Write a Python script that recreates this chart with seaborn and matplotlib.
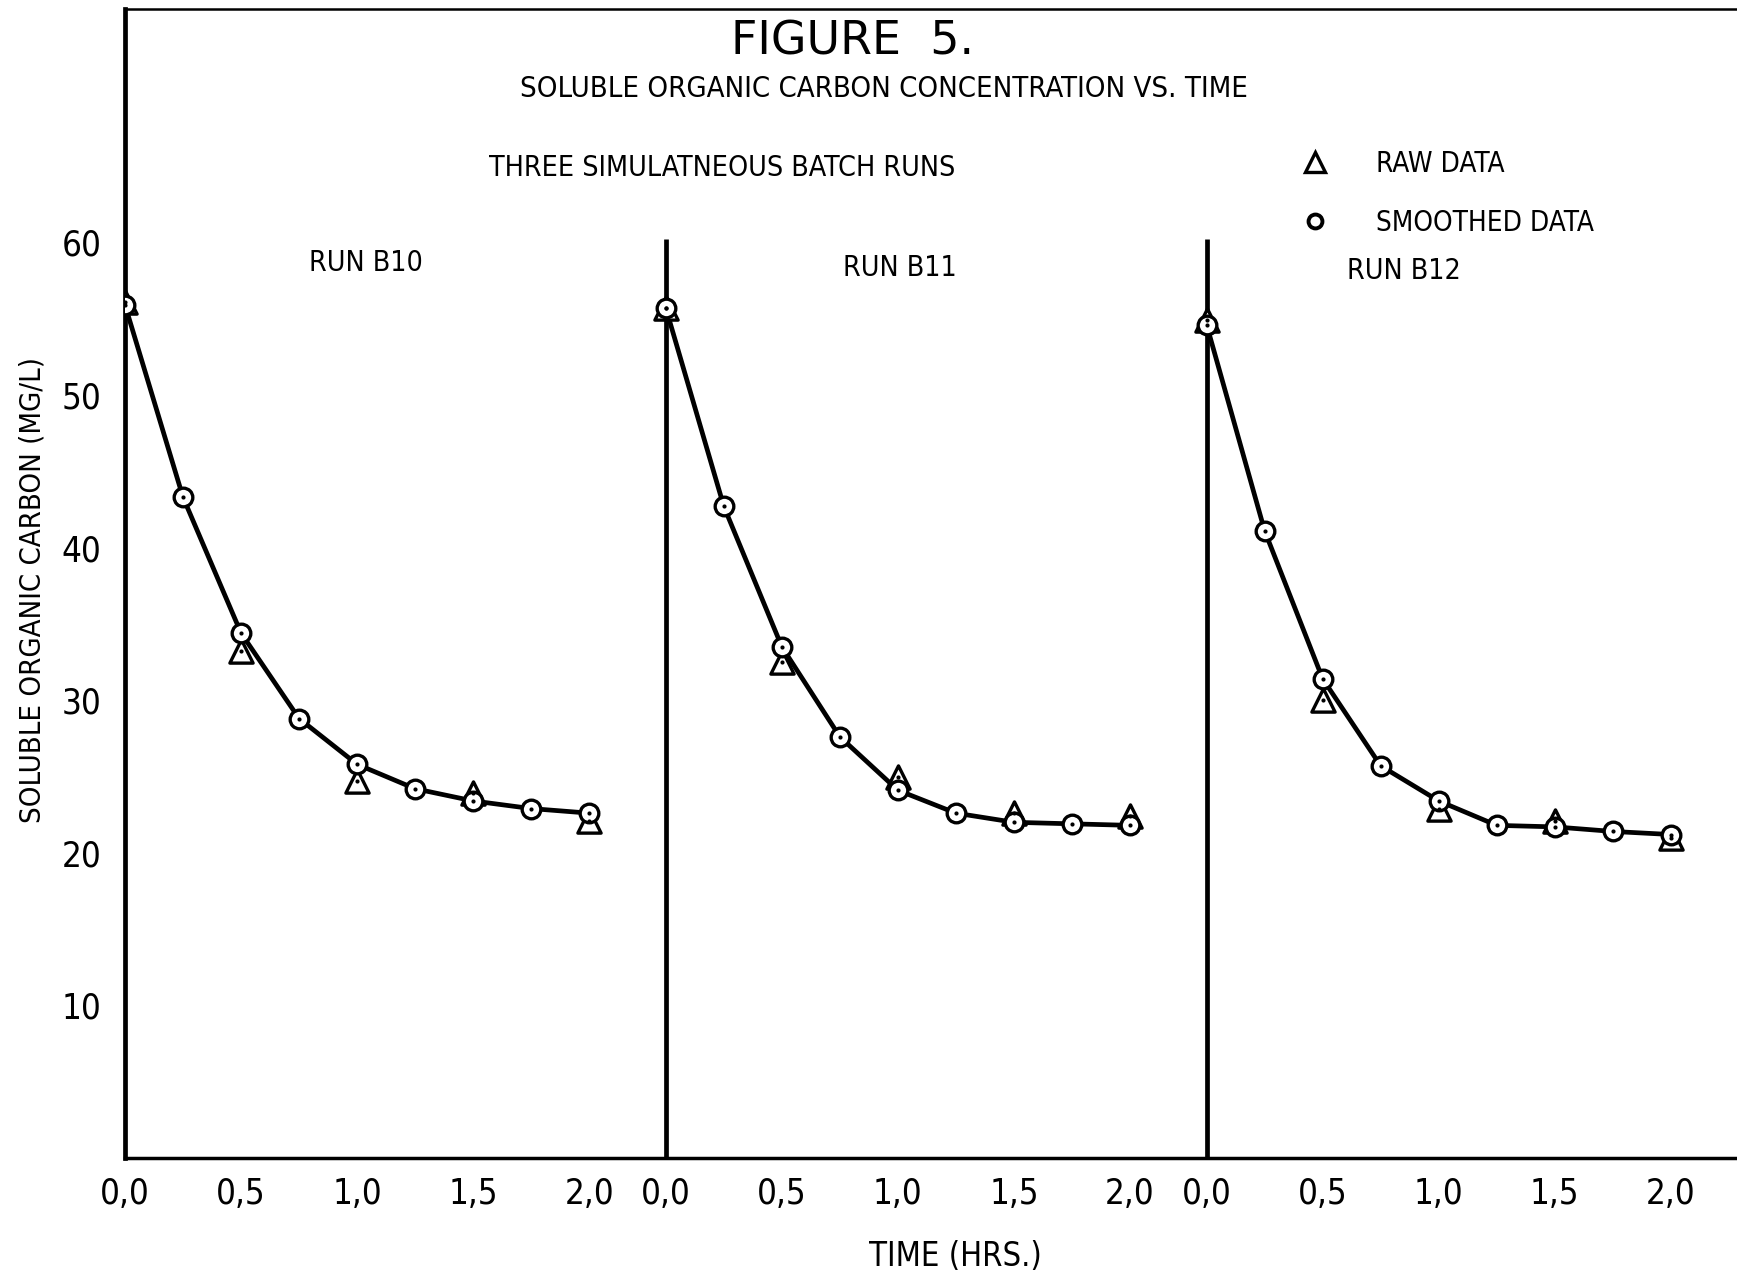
import numpy as np
import pandas as pd
import matplotlib
matplotlib.use("Agg")
import matplotlib.pyplot as plt
import seaborn as sns
from matplotlib.lines import Line2D

# ---------------- data ----------------
runs = ["Run B10", "Run B11", "Run B12"]
run_labels = ["RUN B10", "RUN B11", "RUN B12"]

smooth_time = [0.0, 0.25, 0.5, 0.75, 1.0, 1.25, 1.5, 1.75, 2.0]
smooth_b10 = [55.9, 43.3, 34.4, 28.8, 25.8, 24.2, 23.4, 22.9, 22.6]
smooth_b11 = [55.7, 42.7, 33.5, 27.6, 24.1, 22.6, 22.0, 21.9, 21.8]
smooth_b12 = [54.6, 41.1, 31.4, 25.7, 23.4, 21.8, 21.7, 21.4, 21.2]

raw_time = [0.0, 0.5, 1.0, 1.5, 2.0]
raw_b10 = [56.1, 33.2, 24.7, 23.9, 22.1]
raw_b11 = [55.7, 32.5, 25.0, 22.6, 22.4]
raw_b12 = [54.9, 30.0, 22.9, 22.1, 21.0]

x_tick_values = [0.0, 0.5, 1.0, 1.5, 2.0]
x_tick_labels = ["0,0", "0,5", "1,0", "1,5", "2,0"]
y_tick_values = [10, 20, 30, 40, 50, 60, 70]
y_tick_labels = ["10", "20", "30", "40", "50", "60", ""]

# layout: horizontal offset of each batch panel on the shared axis (hours)
panel_offset = [0.0, 2.33, 4.66]

smooth_vals = [smooth_b10, smooth_b11, smooth_b12]
raw_vals = [raw_b10, raw_b11, raw_b12]

rows = []
for r, off, sv, rv in zip(runs, panel_offset, smooth_vals, raw_vals):
    for t, v in zip(smooth_time, sv):
        rows.append(dict(run=r, time=t, pos=off + t, value=v, kind="Smoothed"))
    for t, v in zip(raw_time, rv):
        rows.append(dict(run=r, time=t, pos=off + t, value=v, kind="Raw"))
df = pd.DataFrame(rows)
smooth_df = df[df.kind == "Smoothed"]
raw_df = df[df.kind == "Raw"]

# ---------------- figure ----------------
sns.set_theme(style="white")
plt.rcParams["font.family"] = ["DejaVu Sans"]
plt.rcParams["font.stretch"] = "condensed"
plt.rcParams["text.color"] = "black"

W, H = 1737, 1278
fig = plt.figure(figsize=(W / 100, H / 100), dpi=100)
ax_left, ax_bottom = 125 / W, 120 / H
ax = fig.add_axes([ax_left, ax_bottom, 1 - ax_left, 1 - ax_bottom - 9 / H])

sns.lineplot(data=smooth_df, x="pos", y="value", units="run", estimator=None,
             color="black", linewidth=3.4, ax=ax, legend=False, zorder=2)
sns.scatterplot(data=raw_df, x="pos", y="value", marker="^", s=280,
                facecolor="white", edgecolor="black", linewidth=2.4, ax=ax,
                legend=False, zorder=3)
sns.scatterplot(data=smooth_df, x="pos", y="value", marker="o", s=180,
                facecolor="white", edgecolor="black", linewidth=2.4, ax=ax,
                legend=False, zorder=4)
sns.scatterplot(data=df, x="pos", y="value", marker="o", s=9,
                color="black", linewidth=0, ax=ax, legend=False, zorder=5)

ax.set_xlim(0, 6.945)
ax.set_ylim(0, 75.3)

# separators of second and third run
for off in panel_offset[1:]:
    ax.vlines(off, 0, 60.2, color="black", linewidth=3.4, zorder=1)

xt, xl = [], []
for off in panel_offset:
    for v, l in zip(x_tick_values, x_tick_labels):
        xt.append(off + v)
        xl.append(l)
ax.set_xticks(xt)
ax.set_xticklabels(xl, fontsize=25)
ax.set_yticks(y_tick_values)
ax.set_yticklabels(y_tick_labels, fontsize=25)
ax.tick_params(axis="x", direction="in", length=9, width=1.5, pad=14,
               colors="black", labelcolor="black")
ax.tick_params(axis="y", direction="in", length=11, width=1.5, pad=17,
               colors="black", labelcolor="black")
ax.set_xlabel("")
ax.set_ylabel("")

for s in ["left", "bottom"]:
    ax.spines[s].set_visible(True)
    ax.spines[s].set_color("black")
ax.spines["left"].set_linewidth(3.4)
ax.spines["bottom"].set_linewidth(2.5)
ax.spines["top"].set_visible(True)
ax.spines["top"].set_color("black")
ax.spines["top"].set_linewidth(1.8)
ax.spines["right"].set_visible(False)

def fx(px):
    return px / W

def fy(py):
    return 1 - py / H

fig.text(fx(853), fy(42), "FIGURE  5.", ha="center", va="center", fontsize=33,
         fontstretch="normal")
fig.text(fx(884), fy(89), "SOLUBLE ORGANIC CARBON CONCENTRATION VS. TIME",
         ha="center", va="center", fontsize=21)
fig.text(fx(722), fy(168), "THREE SIMULATNEOUS BATCH RUNS",
         ha="center", va="center", fontsize=20.5)
for lab, cx, cy in zip(run_labels, [366, 900, 1404], [263, 268, 271]):
    fig.text(fx(cx), fy(cy), lab, ha="center", va="center", fontsize=20.5)

fig.text(fx(33), fy(590), "SOLUBLE ORGANIC CARBON (MG/L)", rotation=90,
         ha="center", va="center", fontsize=21)
fig.text(fx(955), fy(1257), "TIME (HRS.)", ha="center", va="center", fontsize=23.5)

handles = [
    Line2D([], [], marker="^", linestyle="none", markersize=14,
           markerfacecolor="white", markeredgecolor="black", markeredgewidth=2.4),
    Line2D([], [], marker="o", linestyle="none", markersize=10,
           markerfacecolor="white", markeredgecolor="black", markeredgewidth=2.8),
]
leg = fig.legend(handles, ["RAW DATA", "SMOOTHED DATA"], loc="upper left",
                 bbox_to_anchor=(fx(1298), fy(150)), frameon=False, fontsize=20,
                 handlelength=1.2, handletextpad=1.6, labelspacing=1.1,
                 borderaxespad=0, borderpad=0, labelcolor="black")

fig.savefig("out.png", dpi=100, facecolor="white")
